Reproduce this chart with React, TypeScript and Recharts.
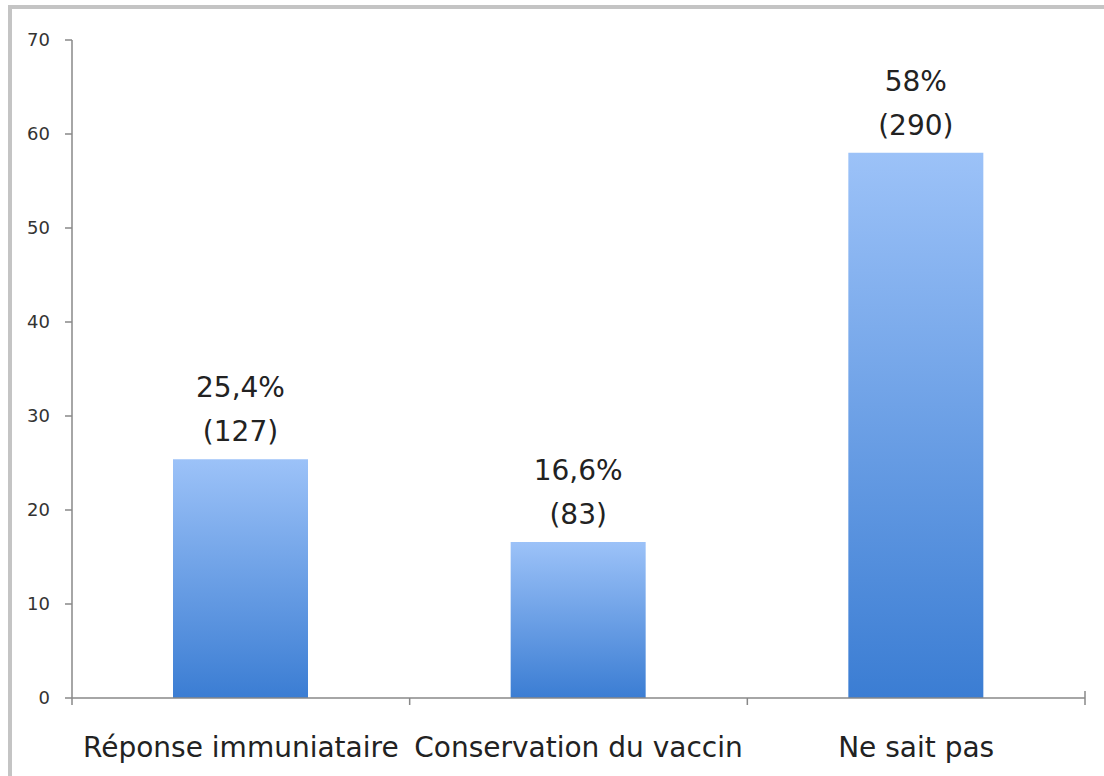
import React from 'react';
import { BarChart, Bar, XAxis, YAxis, LabelList } from 'recharts';

const categories = ['Réponse immuniataire', 'Conservation du vaccin', 'Ne sait pas'];
const values = [25.4, 16.6, 58];
const percentLabels = ['25,4%', '16,6%', '58%'];
const countLabels = ['(127)', '(83)', '(290)'];
const yTicks = [0, 10, 20, 30, 40, 50, 60, 70];

const data = categories.map((c, i) => ({ name: c, value: values[i] }));

const FONT = '"DejaVu Sans", "Lucida Grande", sans-serif';

const ValueLabel = (props: any) => {
  const { x, y, width, index } = props;
  const cx = Number(x) + Number(width) / 2;
  return (
    <g>
      <text x={cx} y={Number(y) - 62} textAnchor="middle" fontFamily={FONT} fontSize={28} fill="#222">
        {percentLabels[index]}
      </text>
      <text x={cx} y={Number(y) - 18} textAnchor="middle" fontFamily={FONT} fontSize={28} fill="#222">
        {countLabels[index]}
      </text>
    </g>
  );
};

const CategoryTick = (props: any) => {
  const { x, y, payload, index } = props;
  const off = Number(payload?.offset ?? 0);
  const isLast = index === categories.length - 1;
  return (
    <g>
      <line x1={x - off} y1={y} x2={x - off} y2={y + 7} stroke="#888" strokeWidth={1.5} />
      {isLast && <line x1={x + off} y1={y - 7} x2={x + off} y2={y + 7} stroke="#888" strokeWidth={1.5} />}
      <text x={x} y={y + 59} textAnchor="middle" fontFamily={FONT} fontSize={28} fill="#222">
        {payload.value}
      </text>
    </g>
  );
};

export default function App() {
  return (
    <div style={{ position: 'absolute', left: 0, top: 0, width: 1104, height: 776, background: '#fff', overflow: 'hidden' }}>
      <div
        style={{
          position: 'absolute',
          left: 8,
          top: 5,
          width: 1100,
          height: 775,
          borderLeft: '4px solid #c4c4c4',
          borderTop: '4px solid #c4c4c4',
          boxSizing: 'border-box',
        }}
      />
      <div style={{ position: 'absolute', left: 0, top: 0 }}>
        <BarChart width={1104} height={776} data={data} margin={{ top: 40, right: 19, bottom: 8, left: 0 }}>
          <defs>
            <linearGradient id="barGrad" x1="0" y1="0" x2="0" y2="1">
              <stop offset="0%" stopColor="#9cc2f8" />
              <stop offset="100%" stopColor="#3b7dd3" />
            </linearGradient>
          </defs>
          <XAxis
            dataKey="name"
            height={70}
            interval={0}
            tickLine={false}
            tickSize={0}
            tickMargin={0}
            axisLine={{ stroke: '#888', strokeWidth: 1.5 }}
            tick={<CategoryTick />}
          />
          <YAxis
            width={72}
            domain={[0, 70]}
            ticks={yTicks}
            interval={0}
            tickSize={7}
            tickMargin={15}
            axisLine={{ stroke: '#888', strokeWidth: 1.5 }}
            tickLine={{ stroke: '#888', strokeWidth: 1.5 }}
            tick={{ fontFamily: FONT, fontSize: 18, fill: '#333' }}
          />
          <Bar dataKey="value" barSize={135} fill="url(#barGrad)" isAnimationActive={false}>
            <LabelList dataKey="value" content={ValueLabel} />
          </Bar>
        </BarChart>
      </div>
    </div>
  );
}
